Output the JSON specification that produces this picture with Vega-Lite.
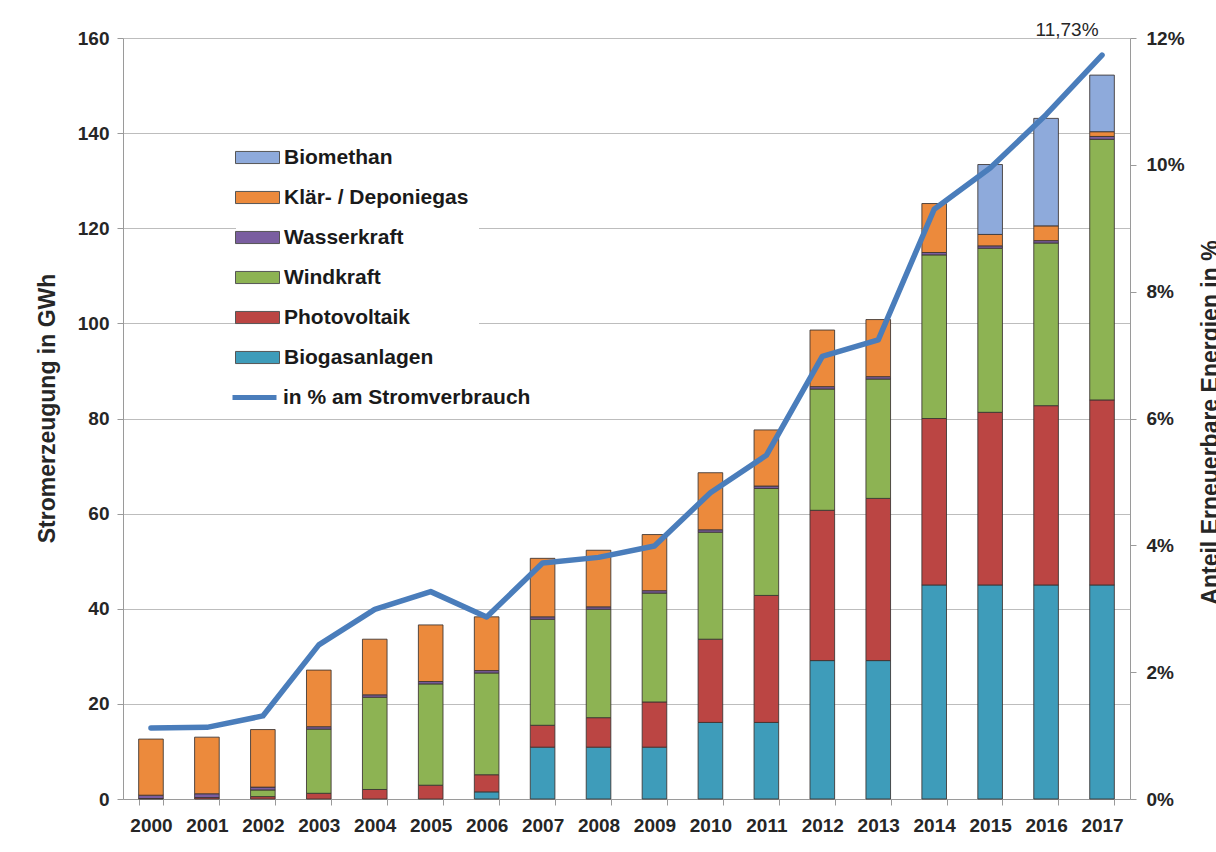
{
  "$schema": "https://vega.github.io/schema/vega-lite/v6.json",
  "width": 1007,
  "height": 761,
  "autosize": {"type": "none"},
  "padding": {"left": 123, "top": 38, "right": 86, "bottom": 53},
  "background": "white",
  "config": {
    "view": {"stroke": null},
    "font": "Liberation Sans",
    "axis": {
      "labelFont": "Liberation Sans",
      "labelFontWeight": "bold",
      "labelFontSize": 19,
      "labelColor": "#262626",
      "titleFont": "Liberation Sans",
      "titleFontWeight": "bold",
      "titleFontSize": 23,
      "titleColor": "#262626",
      "domainColor": "#9a9a9a",
      "tickColor": "#9a9a9a",
      "gridColor": "#bdbdbd"
    }
  },
  "datasets": {
    "gen": [
      {"year": 2000, "source": "Photovoltaik", "value": 0.1, "order": 2},
      {"year": 2000, "source": "Wasserkraft", "value": 0.7, "order": 4},
      {"year": 2000, "source": "Klär- / Deponiegas", "value": 11.8, "order": 5},
      {"year": 2001, "source": "Photovoltaik", "value": 0.3, "order": 2},
      {"year": 2001, "source": "Wasserkraft", "value": 0.8, "order": 4},
      {"year": 2001, "source": "Klär- / Deponiegas", "value": 11.9, "order": 5},
      {"year": 2002, "source": "Photovoltaik", "value": 0.5, "order": 2},
      {"year": 2002, "source": "Windkraft", "value": 1.4, "order": 3},
      {"year": 2002, "source": "Wasserkraft", "value": 0.6, "order": 4},
      {"year": 2002, "source": "Klär- / Deponiegas", "value": 12.1, "order": 5},
      {"year": 2003, "source": "Photovoltaik", "value": 1.2, "order": 2},
      {"year": 2003, "source": "Windkraft", "value": 13.5, "order": 3},
      {"year": 2003, "source": "Wasserkraft", "value": 0.5, "order": 4},
      {"year": 2003, "source": "Klär- / Deponiegas", "value": 11.9, "order": 5},
      {"year": 2004, "source": "Photovoltaik", "value": 2.0, "order": 2},
      {"year": 2004, "source": "Windkraft", "value": 19.4, "order": 3},
      {"year": 2004, "source": "Wasserkraft", "value": 0.5, "order": 4},
      {"year": 2004, "source": "Klär- / Deponiegas", "value": 11.7, "order": 5},
      {"year": 2005, "source": "Photovoltaik", "value": 2.9, "order": 2},
      {"year": 2005, "source": "Windkraft", "value": 21.3, "order": 3},
      {"year": 2005, "source": "Wasserkraft", "value": 0.5, "order": 4},
      {"year": 2005, "source": "Klär- / Deponiegas", "value": 11.9, "order": 5},
      {"year": 2006, "source": "Biogasanlagen", "value": 1.5, "order": 1},
      {"year": 2006, "source": "Photovoltaik", "value": 3.6, "order": 2},
      {"year": 2006, "source": "Windkraft", "value": 21.4, "order": 3},
      {"year": 2006, "source": "Wasserkraft", "value": 0.5, "order": 4},
      {"year": 2006, "source": "Klär- / Deponiegas", "value": 11.3, "order": 5},
      {"year": 2007, "source": "Biogasanlagen", "value": 10.9, "order": 1},
      {"year": 2007, "source": "Photovoltaik", "value": 4.6, "order": 2},
      {"year": 2007, "source": "Windkraft", "value": 22.3, "order": 3},
      {"year": 2007, "source": "Wasserkraft", "value": 0.5, "order": 4},
      {"year": 2007, "source": "Klär- / Deponiegas", "value": 12.3, "order": 5},
      {"year": 2008, "source": "Biogasanlagen", "value": 10.9, "order": 1},
      {"year": 2008, "source": "Photovoltaik", "value": 6.2, "order": 2},
      {"year": 2008, "source": "Windkraft", "value": 22.8, "order": 3},
      {"year": 2008, "source": "Wasserkraft", "value": 0.5, "order": 4},
      {"year": 2008, "source": "Klär- / Deponiegas", "value": 11.9, "order": 5},
      {"year": 2009, "source": "Biogasanlagen", "value": 10.9, "order": 1},
      {"year": 2009, "source": "Photovoltaik", "value": 9.5, "order": 2},
      {"year": 2009, "source": "Windkraft", "value": 22.9, "order": 3},
      {"year": 2009, "source": "Wasserkraft", "value": 0.5, "order": 4},
      {"year": 2009, "source": "Klär- / Deponiegas", "value": 11.8, "order": 5},
      {"year": 2010, "source": "Biogasanlagen", "value": 16.1, "order": 1},
      {"year": 2010, "source": "Photovoltaik", "value": 17.5, "order": 2},
      {"year": 2010, "source": "Windkraft", "value": 22.5, "order": 3},
      {"year": 2010, "source": "Wasserkraft", "value": 0.5, "order": 4},
      {"year": 2010, "source": "Klär- / Deponiegas", "value": 12.0, "order": 5},
      {"year": 2011, "source": "Biogasanlagen", "value": 16.1, "order": 1},
      {"year": 2011, "source": "Photovoltaik", "value": 26.7, "order": 2},
      {"year": 2011, "source": "Windkraft", "value": 22.5, "order": 3},
      {"year": 2011, "source": "Wasserkraft", "value": 0.5, "order": 4},
      {"year": 2011, "source": "Klär- / Deponiegas", "value": 11.8, "order": 5},
      {"year": 2012, "source": "Biogasanlagen", "value": 29.1, "order": 1},
      {"year": 2012, "source": "Photovoltaik", "value": 31.6, "order": 2},
      {"year": 2012, "source": "Windkraft", "value": 25.5, "order": 3},
      {"year": 2012, "source": "Wasserkraft", "value": 0.5, "order": 4},
      {"year": 2012, "source": "Klär- / Deponiegas", "value": 11.9, "order": 5},
      {"year": 2013, "source": "Biogasanlagen", "value": 29.1, "order": 1},
      {"year": 2013, "source": "Photovoltaik", "value": 34.1, "order": 2},
      {"year": 2013, "source": "Windkraft", "value": 25.1, "order": 3},
      {"year": 2013, "source": "Wasserkraft", "value": 0.5, "order": 4},
      {"year": 2013, "source": "Klär- / Deponiegas", "value": 12.0, "order": 5},
      {"year": 2014, "source": "Biogasanlagen", "value": 45.0, "order": 1},
      {"year": 2014, "source": "Photovoltaik", "value": 35.0, "order": 2},
      {"year": 2014, "source": "Windkraft", "value": 34.4, "order": 3},
      {"year": 2014, "source": "Wasserkraft", "value": 0.5, "order": 4},
      {"year": 2014, "source": "Klär- / Deponiegas", "value": 10.3, "order": 5},
      {"year": 2015, "source": "Biogasanlagen", "value": 45.0, "order": 1},
      {"year": 2015, "source": "Photovoltaik", "value": 36.3, "order": 2},
      {"year": 2015, "source": "Windkraft", "value": 34.5, "order": 3},
      {"year": 2015, "source": "Wasserkraft", "value": 0.5, "order": 4},
      {"year": 2015, "source": "Klär- / Deponiegas", "value": 2.4, "order": 5},
      {"year": 2015, "source": "Biomethan", "value": 14.7, "order": 6},
      {"year": 2016, "source": "Biogasanlagen", "value": 45.0, "order": 1},
      {"year": 2016, "source": "Photovoltaik", "value": 37.7, "order": 2},
      {"year": 2016, "source": "Windkraft", "value": 34.2, "order": 3},
      {"year": 2016, "source": "Wasserkraft", "value": 0.5, "order": 4},
      {"year": 2016, "source": "Klär- / Deponiegas", "value": 3.1, "order": 5},
      {"year": 2016, "source": "Biomethan", "value": 22.6, "order": 6},
      {"year": 2017, "source": "Biogasanlagen", "value": 45.0, "order": 1},
      {"year": 2017, "source": "Photovoltaik", "value": 38.9, "order": 2},
      {"year": 2017, "source": "Windkraft", "value": 54.8, "order": 3},
      {"year": 2017, "source": "Wasserkraft", "value": 0.6, "order": 4},
      {"year": 2017, "source": "Klär- / Deponiegas", "value": 1.0, "order": 5},
      {"year": 2017, "source": "Biomethan", "value": 11.9, "order": 6}
    ],
    "pct": [
      {"year": 2000, "pct": 1.12, "series": "in % am Stromverbrauch"},
      {"year": 2001, "pct": 1.13, "series": "in % am Stromverbrauch"},
      {"year": 2002, "pct": 1.31, "series": "in % am Stromverbrauch"},
      {"year": 2003, "pct": 2.43, "series": "in % am Stromverbrauch"},
      {"year": 2004, "pct": 2.99, "series": "in % am Stromverbrauch"},
      {"year": 2005, "pct": 3.27, "series": "in % am Stromverbrauch"},
      {"year": 2006, "pct": 2.87, "series": "in % am Stromverbrauch"},
      {"year": 2007, "pct": 3.72, "series": "in % am Stromverbrauch"},
      {"year": 2008, "pct": 3.81, "series": "in % am Stromverbrauch"},
      {"year": 2009, "pct": 3.99, "series": "in % am Stromverbrauch"},
      {"year": 2010, "pct": 4.83, "series": "in % am Stromverbrauch"},
      {"year": 2011, "pct": 5.42, "series": "in % am Stromverbrauch"},
      {"year": 2012, "pct": 6.98, "series": "in % am Stromverbrauch"},
      {"year": 2013, "pct": 7.24, "series": "in % am Stromverbrauch"},
      {"year": 2014, "pct": 9.30, "series": "in % am Stromverbrauch"},
      {"year": 2015, "pct": 9.95, "series": "in % am Stromverbrauch"},
      {"year": 2016, "pct": 10.79, "series": "in % am Stromverbrauch"},
      {"year": 2017, "pct": 11.73, "series": "in % am Stromverbrauch", "label": "11,73%"}
    ]
  },
  "layer": [
    {
      "data": {"name": "gen"},
      "mark": {"type": "bar", "stroke": "#3a3230", "strokeWidth": 1, "strokeOpacity": 0.85},
      "encoding": {
        "x": {
          "field": "year", "type": "ordinal",
          "scale": {"paddingInner": 0.56, "paddingOuter": 0.28},
          "axis": {"title": null, "labelAngle": 0, "labelPadding": 11, "tickBand": "extent", "tickSize": 6, "grid": false}
        },
        "y": {
          "field": "value", "type": "quantitative", "stack": "zero",
          "scale": {"domain": [0, 160], "nice": false},
          "axis": {
            "title": "Stromerzeugung in GWh",
            "values": [0, 20, 40, 60, 80, 100, 120, 140, 160],
            "grid": true, "tickSize": 6, "labelPadding": 8,
            "titleAngle": 270, "titleX": -64, "titleY": 370, "titleBaseline": "bottom", "titleAlign": "center"
          }
        },
        "color": {
          "field": "source", "type": "nominal",
          "scale": {
            "domain": ["Biomethan", "Klär- / Deponiegas", "Wasserkraft", "Windkraft", "Photovoltaik", "Biogasanlagen"],
            "range": ["#8eaadb", "#ec8a3c", "#7a5ea0", "#8db353", "#bb4543", "#3e9cba"]
          },
          "legend": {
            "title": null, "orient": "none", "legendX": 113, "legendY": 98,
            "symbolType": "M-2,-0.55L2,-0.55L2,0.55L-2,0.55Z", "symbolSize": 484,
            "symbolStrokeColor": "#555555", "symbolStrokeWidth": 1,
            "labelFont": "Liberation Sans", "labelFontWeight": "bold", "labelFontSize": 21, "labelColor": "#1a1a1a",
            "labelOffset": 15, "rowPadding": 18, "fillColor": "white", "padding": 10, "labelLimit": 400
          }
        },
        "order": {"field": "order", "type": "quantitative"}
      }
    },
    {
      "data": {"name": "pct"},
      "mark": {"type": "line", "strokeWidth": 5.5, "strokeJoin": "round", "strokeCap": "round"},
      "encoding": {
        "x": {"field": "year", "type": "ordinal"},
        "y": {
          "field": "pct", "type": "quantitative",
          "scale": {"domain": [0, 12], "nice": false},
          "axis": {
            "orient": "right", "title": "Anteil Erneuerbare Energien in %",
            "values": [0, 2, 4, 6, 8, 10, 12], "labelExpr": "datum.value + '%'",
            "grid": false, "tickSize": 6, "labelPadding": 10,
            "titleAngle": 270, "titleX": 87, "titleY": 384, "titleBaseline": "alphabetic", "titleAlign": "center"
          }
        },
        "stroke": {
          "field": "series", "type": "nominal",
          "scale": {"range": ["#4a7dbb"]},
          "legend": {
            "title": null, "orient": "none", "legendX": 101, "legendY": 329,
            "symbolType": "stroke", "symbolStrokeWidth": 5, "symbolSize": 1936,
            "labelFont": "Liberation Sans", "labelFontWeight": "bold", "labelFontSize": 21, "labelColor": "#1a1a1a",
            "labelOffset": 4, "padding": 6, "labelLimit": 400
          }
        }
      }
    },
    {
      "data": {"name": "pct"},
      "transform": [{"filter": "isValid(datum.label)"}],
      "mark": {"type": "text", "dx": -35, "dy": -25, "fontSize": 19, "color": "#262626", "font": "Liberation Sans"},
      "encoding": {
        "x": {"field": "year", "type": "ordinal"},
        "y": {"field": "pct", "type": "quantitative", "scale": {"domain": [0, 12], "nice": false}, "axis": null},
        "text": {"field": "label"}
      }
    }
  ],
  "resolve": {"scale": {"y": "independent"}}
}
